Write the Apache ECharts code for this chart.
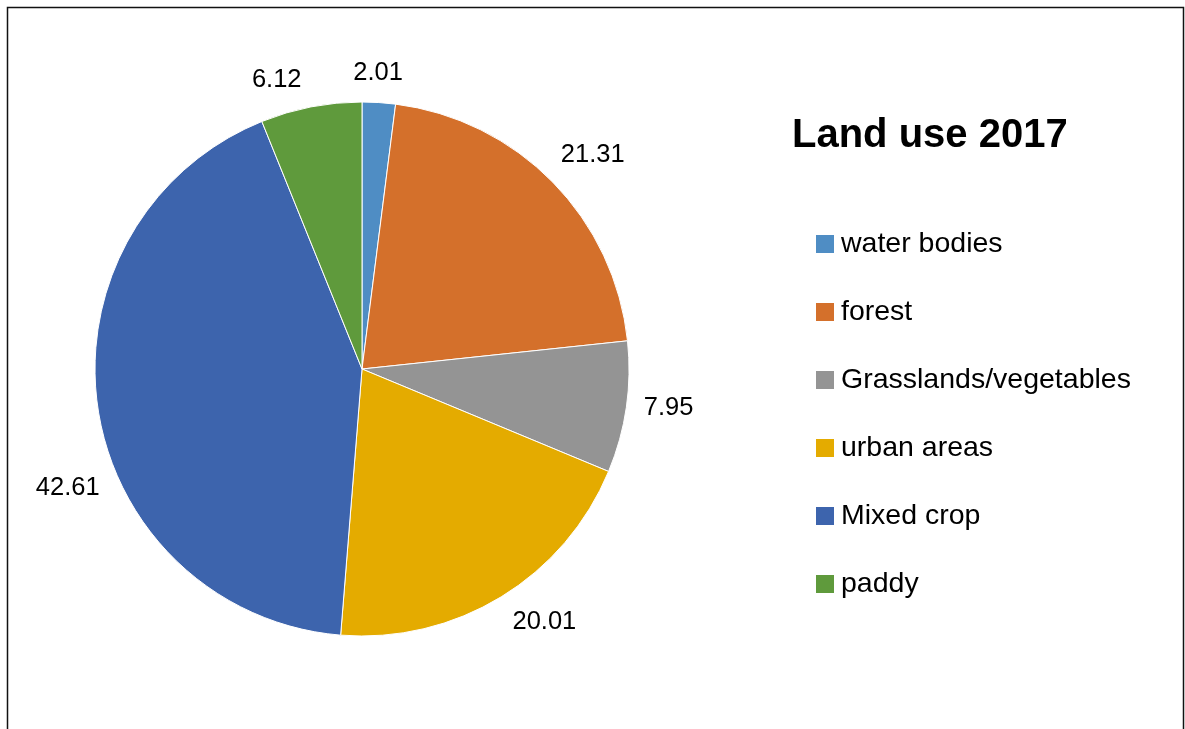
<!DOCTYPE html>
<html>
<head>
<meta charset="utf-8">
<script src="https://cdn.jsdelivr.net/npm/echarts@6/dist/echarts.min.js"></script>
<style>
html,body{margin:0;padding:0;background:#fff;}
#main{width:1185px;height:729px;}
</style>
</head>
<body>
<div id="main"></div>
<script>
var categories = ['water bodies', 'forest', 'Grasslands/vegetables', 'urban areas', 'Mixed crop', 'paddy'];
var values = [2.01, 21.31, 7.95, 20.01, 42.61, 6.12];
var colors = ['#4F8DC4', '#D4702B', '#949494', '#E4AB00', '#3D64AD', '#5F9A3C'];
var titleText = 'Land use 2017';

// layout / style settings (not data)
var CX = 362, CY = 369, R = 267, GAP = 16;
// small angular nudges (degrees) mimicking the original "best fit" label placement
var labelNudgeDeg = [-0.5, 1.5, -1, -4.4, -13.3, -5.4];

var total = values.reduce(function (a, b) { return a + b; }, 0);

var chart = echarts.init(document.getElementById('main'), null, {renderer: 'canvas'});
var option = {
  animation: false,
  backgroundColor: '#fff',
  color: colors,
  title: {
    text: titleText,
    left: 787,
    top: 111,
    textStyle: {fontFamily: 'Liberation Sans', fontWeight: 'bold', fontSize: 40, color: '#000'}
  },
  legend: {
    orient: 'vertical',
    left: 814,
    top: 229,
    padding: 0,
    itemWidth: 20,
    itemHeight: 20,
    itemGap: 38,
    icon: 'rect',
    textStyle: {fontFamily: 'Liberation Sans', fontSize: 28.5, color: '#000', lineHeight: 30, padding: [0, 0, 0, 1]},
    data: categories
  },
  graphic: [{
    type: 'rect',
    shape: {x: 7.5, y: 7.5, width: 1176, height: 760},
    style: {fill: null, stroke: '#111', lineWidth: 1.5},
    silent: true
  }],
  series: [{
    type: 'pie',
    center: [CX, CY],
    radius: R,
    startAngle: 90,
    clockwise: true,
    avoidLabelOverlap: false,
    itemStyle: {borderColor: '#fff', borderWidth: 1},
    label: {
      show: true,
      position: 'outside',
      formatter: function (p) { return p.value.toFixed(2); },
      fontFamily: 'Liberation Sans',
      fontSize: 25.5,
      lineHeight: 26,
      color: '#000'
    },
    labelLine: {show: false, length: 10, length2: 0},
    labelLayout: function (params) {
      var i = params.dataIndex;
      var cum = 0;
      for (var k = 0; k < i; k++) cum += values[k];
      var mid = (cum + values[i] / 2) / total * Math.PI * 2 + labelNudgeDeg[i] * Math.PI / 180;
      var ux = Math.sin(mid), uy = -Math.cos(mid);
      var w = params.labelRect.width, h = params.labelRect.height;
      var b = Math.abs(ux) * w / 2 + Math.abs(uy) * h / 2;
      var rr = R + GAP;
      var t = b + Math.sqrt(Math.max(0, b * b - (w * w + h * h) / 4 + rr * rr));
      return {x: CX + ux * t, y: CY + uy * t, align: 'center', verticalAlign: 'middle'};
    },
    data: categories.map(function (c, i) { return {name: c, value: values[i]}; })
  }]
};
chart.setOption(option);
</script>
</body>
</html>
